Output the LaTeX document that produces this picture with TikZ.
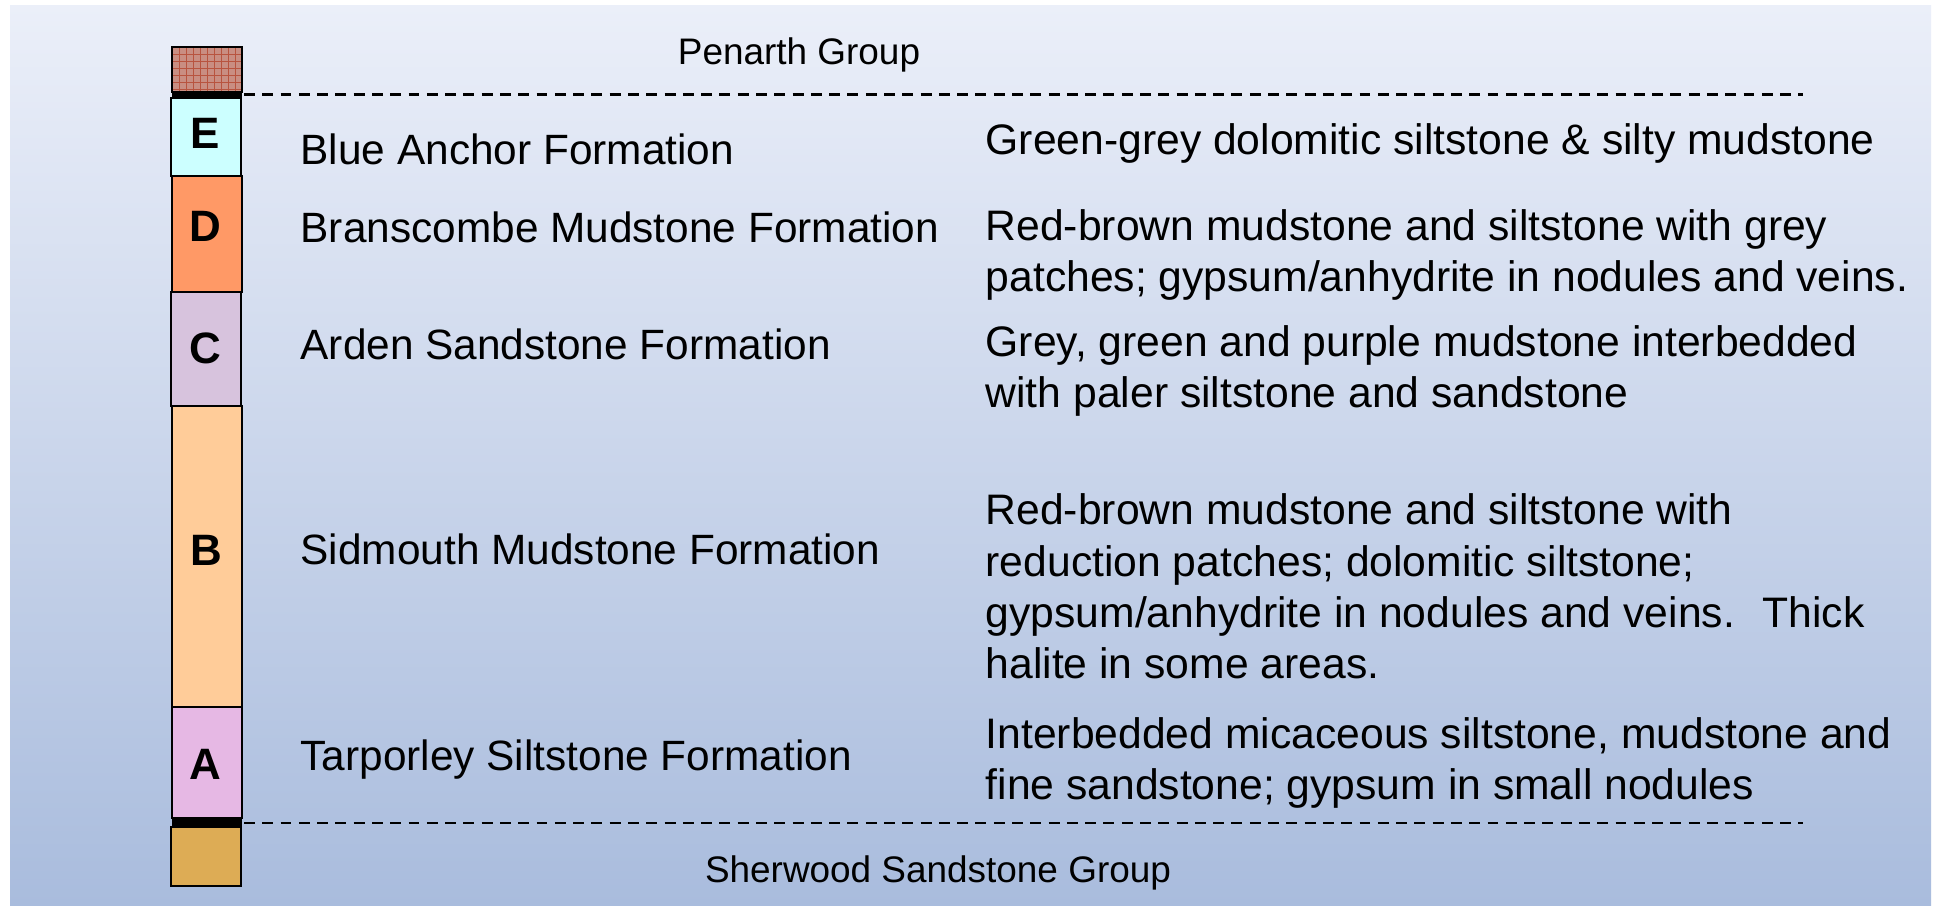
\documentclass[tikz,border=0pt]{standalone}
\usepackage{fontspec}
\setmainfont{Liberation Sans}
\begin{document}
\begin{tikzpicture}[x=0.01cm,y=-0.01cm,
  layer/.style={draw=black,line width=0.6pt},
  band/.style={fill=black},
  formname/.style={anchor=west,inner sep=0pt,font=\fontsize{12.05pt}{14.5pt}\selectfont},
  desc/.style={anchor=west,inner sep=0pt,align=left,font=\fontsize{12.13pt}{14.6pt}\selectfont},
  grp/.style={inner sep=0pt,font=\fontsize{10.5pt}{12pt}\selectfont},
  letter/.style={inner sep=0pt,font=\fontsize{12.5pt}{14pt}\selectfont\bfseries},
  boundary/.style={line width=0.8pt,dash pattern=on 3.1pt off 2.1pt}]
\definecolor{bgtop}{HTML}{EBEFF9}
\definecolor{bgbot}{HTML}{A9BCDD}
\definecolor{colE}{HTML}{CCFFFF}
\definecolor{colD}{HTML}{FF9966}
\definecolor{colC}{HTML}{D7C3DD}
\definecolor{colB}{HTML}{FFCC99}
\definecolor{colA}{HTML}{E6B8E4}
\definecolor{colS}{HTML}{DDAC55}
\definecolor{hatchbase}{HTML}{C98E82}
\definecolor{hatchline}{HTML}{B8543F}
\useasboundingbox (0,0) rectangle (1934,905);
\fill[white] (0,0) rectangle (1934,905);
\shade[top color=bgtop,bottom color=bgbot] (10,5) rectangle (1931,905);
% Penarth hatched box
\fill[hatchbase] (172,47) rectangle (242,92);
\begin{scope}
  \clip (172,47) rectangle (242,92);
  \foreach \i in {0,...,10} {
    \draw[hatchline,line width=0.25pt] (172+7*\i,47) -- (172+7*\i,92);
  }
  \foreach \j in {0,...,7} {
    \draw[hatchline,line width=0.25pt] (172,47+7*\j) -- (242,47+7*\j);
  }
\end{scope}
\draw[layer] (172,47) rectangle (242,92);
\fill[band] (172,91) rectangle (242,99);
% Formation boxes
\draw[layer,fill=colE] (171,98) rectangle (241,176);
\draw[layer,fill=colD] (172,176) rectangle (242,292);
\draw[layer,fill=colC] (171,292) rectangle (241,406);
\draw[layer,fill=colB] (172,406) rectangle (242,707);
\draw[layer,fill=colA] (172,707) rectangle (242,818);
\fill[band] (172,818) rectangle (242,827);
\draw[layer,fill=colS] (171,827) rectangle (241,886);
% Letters
\node[letter] (lE) at (205,133) {E};
\node[letter] (lD) at (205,226) {D};
\node[letter] (lC) at (205,348) {C};
\node[letter] (lB) at (206,550) {B};
\node[letter] (lA) at (205,764) {A};
% Boundaries
\coordinate (tl) at (244,94.5);
\coordinate (tr) at (1803,94.5);
\coordinate (bl) at (244,823);
\coordinate (br) at (1803,823);
\draw[boundary] (tl) -- (tr);
\draw[boundary] (bl) -- (br);
% Group labels
\node[grp] (penarth) at (799,54.5) {Penarth Group};
\node[grp] (sherwood) at (938,872.5) {Sherwood Sandstone Group};
% Formation names
\node[formname] (nE) at (300,149) {Blue Anchor Formation};
\node[formname] (nD) at (300,227) {Branscombe Mudstone Formation};
\node[formname] (nC) at (300,344) {Arden Sandstone Formation};
\node[formname] (nB) at (300,549) {Sidmouth Mudstone Formation};
\node[formname] (nA) at (300,760) {Tarporley Siltstone Formation};
% Descriptions
\node[desc] (dE) at (985,143) {Green-grey dolomitic siltstone \& silty mudstone};
\node[desc] (dD) at (985,255) {Red-brown mudstone and siltstone with grey\\patches; gypsum/anhydrite in nodules and veins.};
\node[desc] (dC) at (985,371) {Grey, green and purple mudstone interbedded\\with paler siltstone and sandstone};
\node[desc] (dB) at (985,586.5) {Red-brown mudstone and siltstone with\\reduction patches; dolomitic siltstone;\\gypsum/anhydrite in nodules and veins.~ Thick\\halite in some areas.};
\node[desc] (dA) at (985,763) {Interbedded micaceous siltstone, mudstone and\\fine sandstone; gypsum in small nodules};
\end{tikzpicture}
\end{document}
